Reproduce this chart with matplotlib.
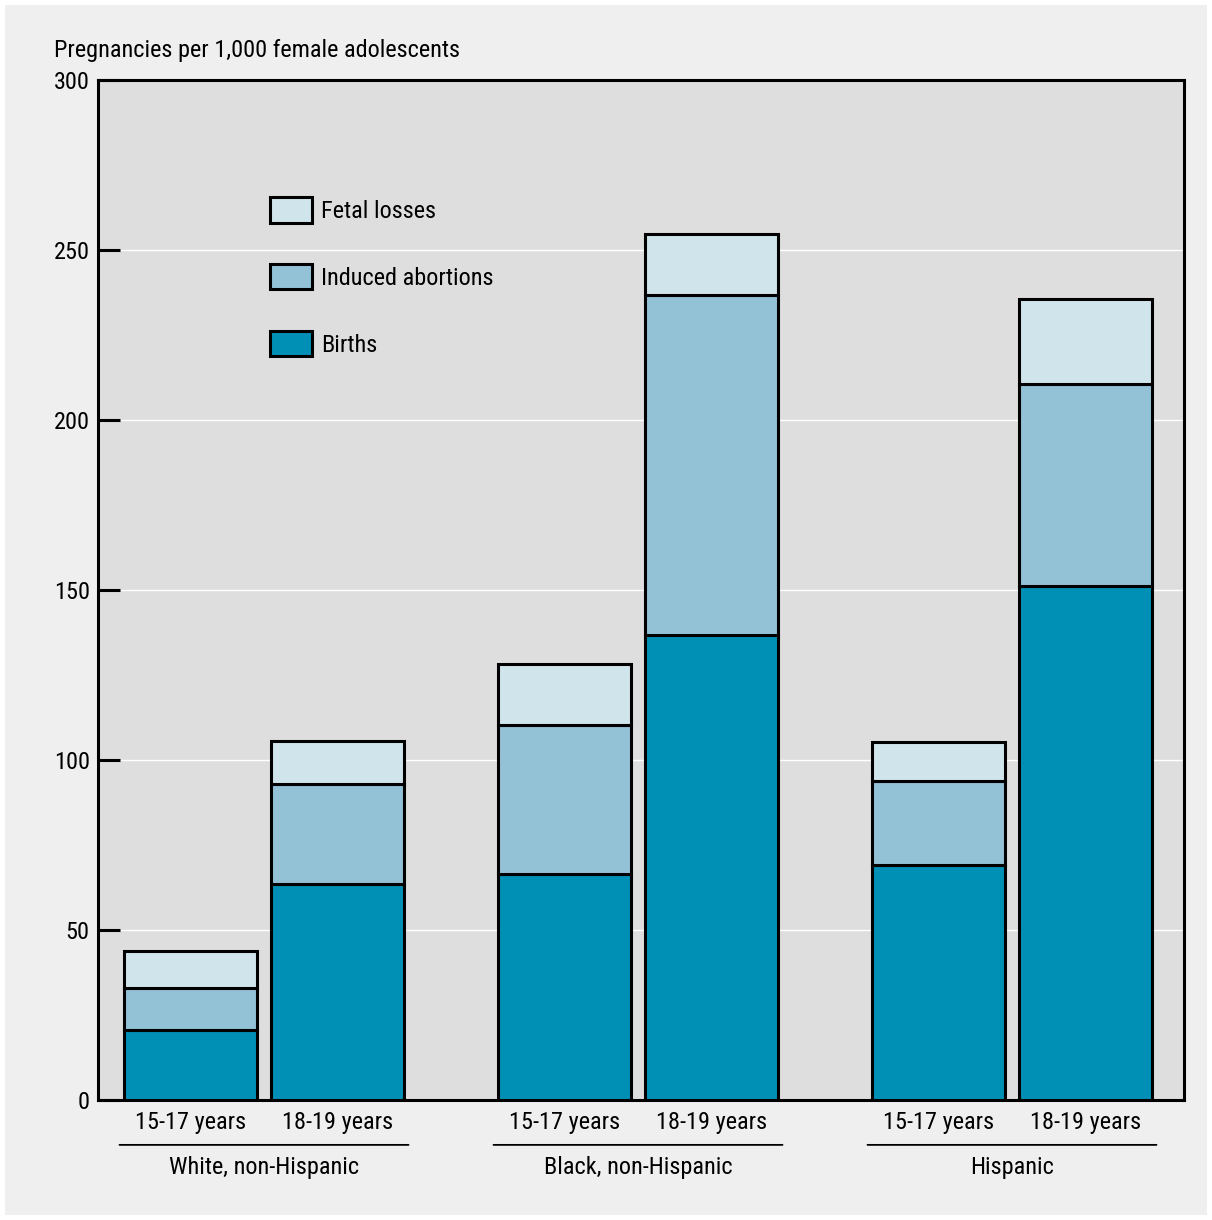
import numpy as np
import matplotlib.pyplot as plt
from matplotlib import font_manager
from matplotlib.patches import Rectangle

names = set(f.name for f in font_manager.fontManager.ttflist)
cands = ['Roboto Condensed', 'Liberation Sans Narrow', 'Open Sans Condensed', 'DejaVu Sans']
fam = [c for c in cands if c in names][0]
plt.rcParams['font.family'] = [fam, 'DejaVu Sans']
plt.rcParams['font.stretch'] = 'condensed'

groups = ['White, non-Hispanic', 'Black, non-Hispanic', 'Hispanic']
ages = ['15-17 years', '18-19 years']
births = [20.6, 63.5, 66.5, 136.8, 69.1, 151.2]
abortions = [12.3, 29.4, 43.8, 100.0, 24.7, 59.4]
fetal = [10.9, 12.7, 17.9, 17.9, 11.5, 25.0]
yticks = [0, 50, 100, 150, 200, 250, 300]

c_births = '#008fb5'
c_abort = '#93c1d6'
c_fetal = '#d0e4ec'

fig = plt.figure(figsize=(12.12, 12.2), dpi=100, facecolor='white')
fig.patches.append(Rectangle((5 / 1212, 5 / 1220), 1202 / 1212, 1210 / 1220,
                             transform=fig.transFigure, facecolor='#efefef',
                             edgecolor='none', zorder=-10))
ax = fig.add_axes([98 / 1212, 1 - 1100 / 1220, 1086 / 1212, 1020 / 1220])
ax.set_facecolor('#dedede')

gap = 374 / 147
x = np.array([g * gap + s for g in range(3) for s in range(2)])
w = 133 / 147
b = np.array(births)
a = np.array(abortions)
f = np.array(fetal)
kw = dict(width=w, edgecolor='black', linewidth=2.2, zorder=3)
ax.bar(x, b, color=c_births, label='Births', **kw)
ax.bar(x, a, bottom=b, color=c_abort, label='Induced abortions', **kw)
ax.bar(x, f, bottom=b + a, color=c_fetal, label='Fetal losses', **kw)

ax.set_ylim(0, 300)
ax.set_xlim(-92.5 / 147, x[0] + (1184 - 190.5) / 147)
ax.set_yticks(yticks)
ax.yaxis.grid(True, color='white', linewidth=1)
ax.set_axisbelow(True)
ax.tick_params(axis='y', direction='in', length=16, width=2.2, labelsize=17.5, pad=6)
ax.tick_params(axis='x', length=0, labelsize=17.5, pad=8)
ax.set_xticks(x)
ax.set_xticklabels(ages * 3)
for s in ax.spines.values():
    s.set_linewidth(2.2)

for g, name in enumerate(groups):
    cx = g * gap + 0.5
    ax.annotate('', xy=(cx - 0.983, -13.2), xytext=(cx + 0.983, -13.2), xycoords='data',
                arrowprops=dict(arrowstyle='-', lw=1.3, color='black', shrinkA=0, shrinkB=0),
                annotation_clip=False)
    ax.text(cx, -19.8, name, ha='center', va='center', fontsize=17.5, clip_on=False)

fig.text(54 / 1212, 1 - 51 / 1220, 'Pregnancies per 1,000 female adolescents',
         fontsize=17.5, va='center', ha='left')

h, l = ax.get_legend_handles_labels()
ax.legend(h[::-1], l[::-1], loc='upper left', bbox_to_anchor=(0.158, 0.885),
          frameon=False, fontsize=17.5, handlelength=1.73, handleheight=1.23,
          labelspacing=1.68, handletextpad=0.4, borderpad=0, borderaxespad=0)
leg = ax.get_legend()
for p in leg.get_patches():
    p.set_linewidth(2.2)

fig.savefig('out.png', dpi=100, facecolor=fig.get_facecolor())
